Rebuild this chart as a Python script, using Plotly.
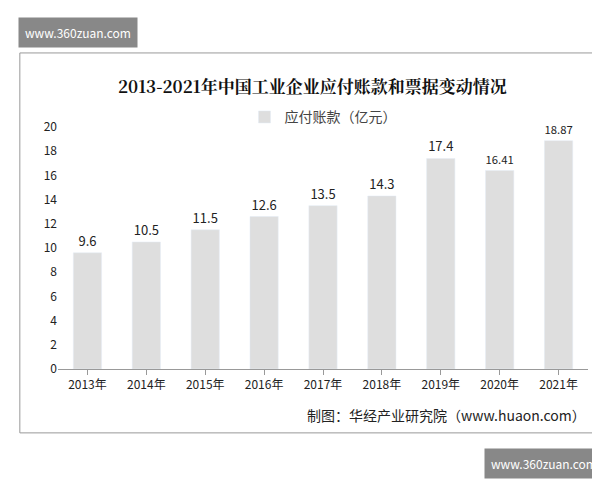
import plotly.graph_objects as go

years = ["2013年","2014年","2015年","2016年","2017年","2018年","2019年","2020年","2021年"]
values = [9.6, 10.5, 11.5, 12.6, 13.5, 14.3, 17.4, 16.41, 18.87]
labels = ["9.6","10.5","11.5","12.6","13.5","14.3","17.4","16.41","18.87"]
yticks = list(range(0, 21, 2))

fig = go.Figure(go.Bar(x=years, y=values, text=labels, textposition="outside",
                       textfont=dict(size=13, color="#222"), marker_color="#dedede",
                       width=0.48, name="应付账款（亿元）", showlegend=True, cliponaxis=False))
fig.update_layout(
    width=600, height=480, paper_bgcolor="white", plot_bgcolor="white",
    margin=dict(l=50, r=20, t=119, b=119, autoexpand=False),
    font=dict(family="Noto Sans CJK SC", color="#222"),
    showlegend=True,
    legend=dict(orientation="h", x=0.5, xanchor="center", y=1.04, yanchor="middle",
                font=dict(size=14, color="#444"), bgcolor="rgba(0,0,0,0)"),
    xaxis=dict(showline=True, linecolor="#999", tickfont=dict(size=12), ticks="outside", tickcolor="#999"),
    yaxis=dict(range=[0, 20], tickvals=yticks, showgrid=False, showline=False, tickfont=dict(size=12)),
    shapes=[dict(type="rect", xref="paper", yref="paper", x0=-0.072, x1=1.023, y0=-0.264, y1=1.306,
                 line=dict(color="#999", width=1))],
    annotations=[
        dict(text="<b>2013-2021年中国工业企业应付账款和票据变动情况</b>", xref="paper", yref="paper",
             x=0.48, y=1.17, yanchor="middle", showarrow=False,
             font=dict(size=17, family="Noto Serif CJK SC, Noto Sans CJK SC", color="#111")),
        dict(text="制图：华经产业研究院（www.huaon.com）", xref="paper", yref="paper",
             x=1.0, xanchor="right", y=-0.19, yanchor="middle", showarrow=False, font=dict(size=14, color="#222")),
        dict(text="www.360zuan.com", xref="paper", yref="paper", x=-0.075, xanchor="left",
             y=1.39, yanchor="middle", showarrow=False, bgcolor="#888", font=dict(size=12, color="white"), borderpad=6),
        dict(text="www.360zuan.com", xref="paper", yref="paper", x=1.03, xanchor="right",
             y=-0.39, yanchor="middle", showarrow=False, bgcolor="#888", font=dict(size=12, color="white"), borderpad=6),
    ],
)
fig.write_html("out.html")
